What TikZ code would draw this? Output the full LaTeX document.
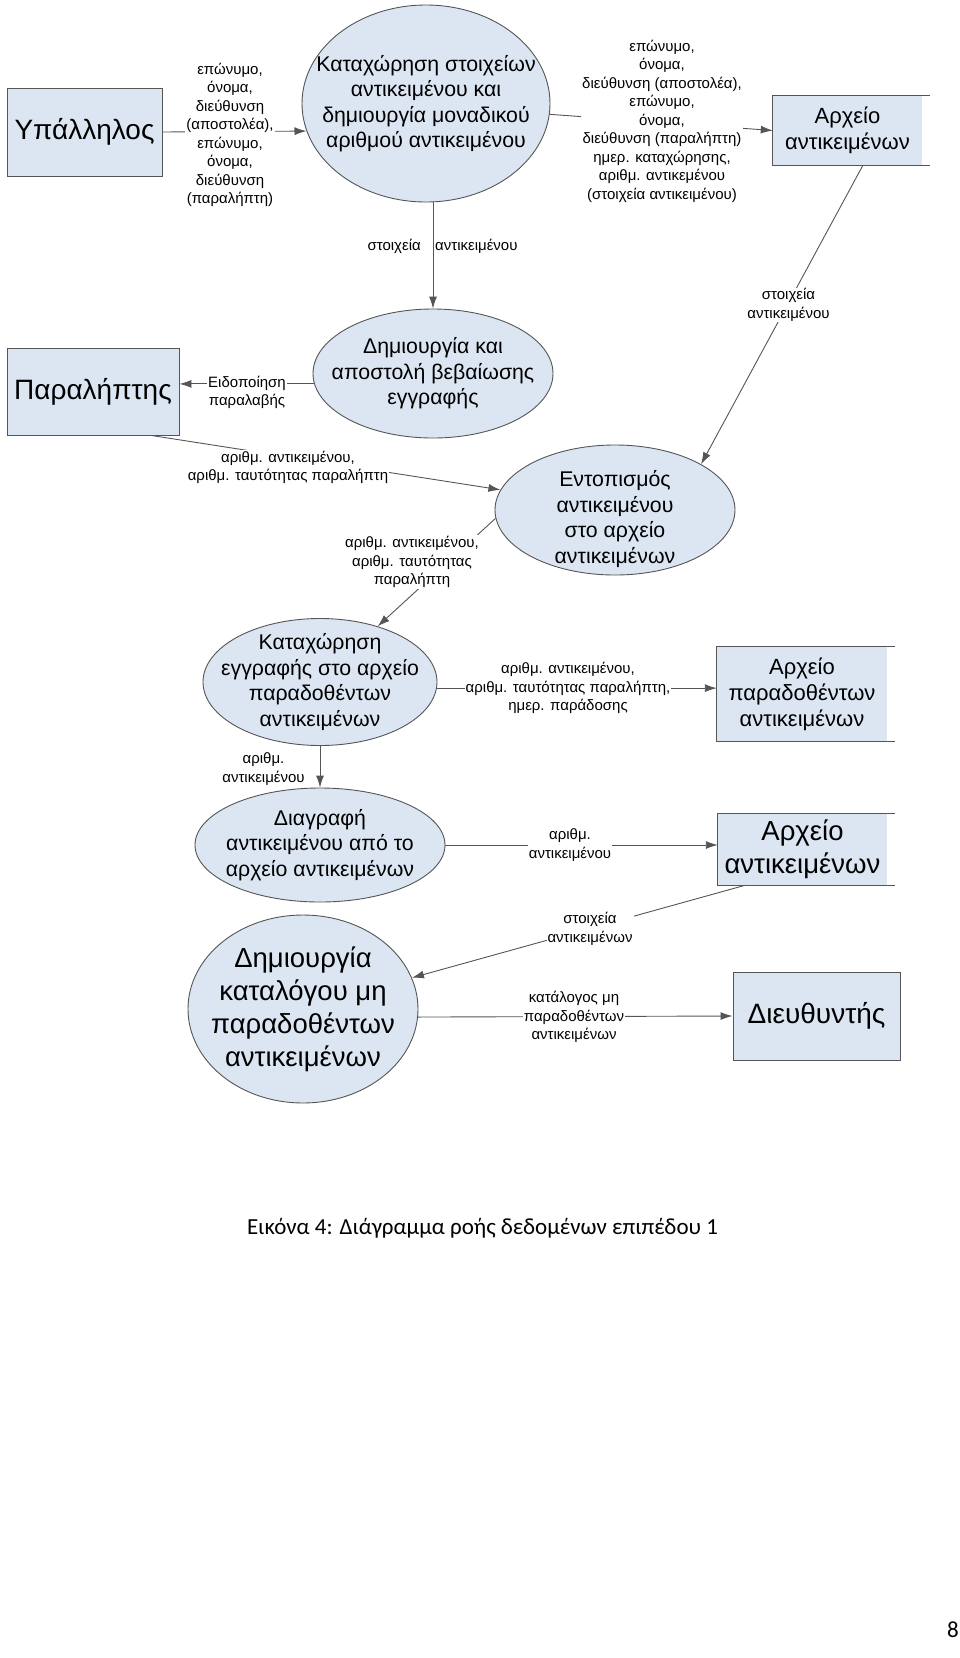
\documentclass[tikz,border=0pt]{standalone}
\usepackage{fontspec}
\setmainfont{Liberation Sans}
\newfontfamily\captionfont{Carlito}
\usetikzlibrary{shapes.geometric,arrows.meta}

\definecolor{dfdfill}{RGB}{220,230,242}
\definecolor{dfdline}{RGB}{85,85,85}

\tikzset{
  entity/.style={rectangle, draw=dfdline, fill=dfdfill, line width=0.9pt,
    inner sep=0pt, font=\fontsize{28}{32}\selectfont},
  store/.style={rectangle, fill=dfdfill, inner sep=0pt, align=center,
    font=\fontsize{22}{26}\selectfont},
  proc/.style={ellipse, draw=dfdline, fill=dfdfill, line width=0.9pt, inner sep=0pt},
  ptext/.style={align=center, font=\fontsize{21.3}{25.5}\selectfont},
  bigtext/.style={align=center, font=\fontsize{27.5}{33}\selectfont},
  lbl/.style={fill=white, inner sep=1pt, align=center, font=\fontsize{15}{18.5}\selectfont},
  flow/.style={draw=dfdline, line width=0.9pt, -{Latex[length=12pt,width=8pt]}},
  wire/.style={draw=dfdline, line width=0.9pt}
}

\begin{document}
\begin{tikzpicture}[x=1pt,y=-1pt]
  \useasboundingbox (0,0) rectangle (960,1658);

  % External entities
  \node[entity, minimum width=155pt, minimum height=88pt] (ypallilos) at (84.5,132) {Υπάλληλος};
  \node[entity, minimum width=172pt, minimum height=87pt] (paraliptis) at (93,391.5) {Παραλήπτης};
  \node[entity, minimum width=167pt, minimum height=88pt] (dieythyntis) at (816.5,1016) {Διευθυντής};

  % Data stores
  \node[store, minimum width=149pt, minimum height=69pt] (store1) at (847.5,130.5) {Αρχείο\\αντικειμένων};
  \node[store, minimum width=170pt, minimum height=94pt] (store2) at (802,694) {Αρχείο\\παραδοθέντων\\αντικειμένων};
  \node[store, font=\fontsize{27.5}{33}\selectfont, minimum width=169pt, minimum height=71pt] (store3) at (802.5,849.5) {Αρχείο\\αντικειμένων};
  \foreach \s in {store1,store2,store3} {
    \draw[wire] ([xshift=8pt]\s.north east) -- (\s.north west) -- (\s.south west) -- ([xshift=8pt]\s.south east);
  }

  % Processes
  \node[proc, minimum width=248pt, minimum height=197pt,
    label={[ptext]center:{Καταχώρηση στοιχείων\\αντικειμένου και\\δημιουργία μοναδικού\\αριθμού αντικειμένου}}] (proc1) at (426,103.5) {};
  \node[proc, minimum width=240pt, minimum height=129pt,
    label={[ptext]center:{Δημιουργία και\\αποστολή βεβαίωσης\\εγγραφής}}] (proc2) at (433,373.5) {};
  \node[proc, minimum width=240pt, minimum height=130pt,
    label={[ptext, yshift=-9pt]center:{Εντοπισμός\\αντικειμένου\\στο αρχείο\\αντικειμένων}}] (proc3) at (615,510) {};
  \node[proc, minimum width=234pt, minimum height=127pt,
    label={[ptext]center:{Καταχώρηση\\εγγραφής στο αρχείο\\παραδοθέντων\\αντικειμένων}}] (proc4) at (320,682) {};
  \node[proc, minimum width=250pt, minimum height=114pt,
    label={[ptext]center:{Διαγραφή\\αντικειμένου από το\\αρχείο αντικειμένων}}] (proc5) at (320,845) {};
  \node[proc, minimum width=230pt, minimum height=188pt,
    label={[bigtext]center:{Δημιουργία\\καταλόγου μη\\παραδοθέντων\\αντικειμένων}}] (proc6) at (303,1009) {};

  % Data flows
  \draw[flow] (ypallilos.east) -- (proc1.193);
  \draw[flow] (proc1.-5) -- (store1.west);
  \draw[flow] (proc1.south -| proc2.north) -- (proc2.north);
  \draw[flow] (proc2.185) -- (proc2.185 -| paraliptis.east);
  \draw[flow] (store1.-66) -- (proc3.28);
  \draw[flow] (paraliptis.-37) -- (proc3.170);
  \draw[flow] (proc3.184) -- (proc4.44);
  \draw[flow] (proc4.-3) -- (proc4.-3 -| store2.west);
  \draw[flow] (proc4.south) -- (proc5.north);
  \draw[flow] (proc5.east) -- (proc5.east -| store3.west);
  \draw[flow] (store3.-148) -- (proc6.16);
  \draw[flow] (proc6.-4) -- (dieythyntis.west);

  % Flow labels
  \node[lbl] (lab1) at (230,135) {επώνυμο,\\όνομα,\\διεύθυνση\\(αποστολέα),\\επώνυμο,\\όνομα,\\διεύθυνση\\(παραλήπτη)};
  \node[lbl] (lab2) at (662,121) {επώνυμο,\\όνομα,\\διεύθυνση (αποστολέα),\\επώνυμο,\\όνομα,\\διεύθυνση (παραλήπτη)\\ημερ. καταχώρησης,\\αριθμ. αντικεμένου\\(στοιχεία αντικειμένου)};
  \node[lbl, fill=none, anchor=east] (lab3a) at (422,246) {στοιχεία};
  \node[lbl, fill=none, anchor=west] (lab3b) at (434,246) {αντικειμένου};
  \node[lbl] (lab4) at (788.5,305) {στοιχεία\\αντικειμένου};
  \node[lbl] (lab5) at (247,392.5) {Ειδοποίηση\\παραλαβής};
  \node[lbl] (lab6) at (288,467.5) {αριθμ. αντικειμένου,\\αριθμ. ταυτότητας παραλήπτη};
  \node[lbl] (lab7) at (412,562) {αριθμ. αντικειμένου,\\αριθμ. ταυτότητας\\παραλήπτη};
  \node[lbl] (lab8) at (568,688) {αριθμ. αντικειμένου,\\αριθμ. ταυτότητας παραλήπτη,\\ημερ. παράδοσης};
  \node[lbl] (lab9) at (263.5,769) {αριθμ.\\αντικειμένου};
  \node[lbl] (lab10) at (570,845) {αριθμ.\\αντικειμένου};
  \node[lbl] (lab11) at (590,929) {στοιχεία\\αντικειμένων};
  \node[lbl] (lab12) at (574,1017) {κατάλογος μη\\παραδοθέντων\\αντικειμένων};

  % Caption and page number
  \node[font=\captionfont\fontsize{23}{28}\selectfont] (caption) at (482.5,1228) {Εικόνα 4: Διάγραμμα ροής δεδομένων επιπέδου 1};
  \node[font=\captionfont\fontsize{23}{28}\selectfont] (pagenum) at (953,1630) {8};
\end{tikzpicture}
\end{document}
